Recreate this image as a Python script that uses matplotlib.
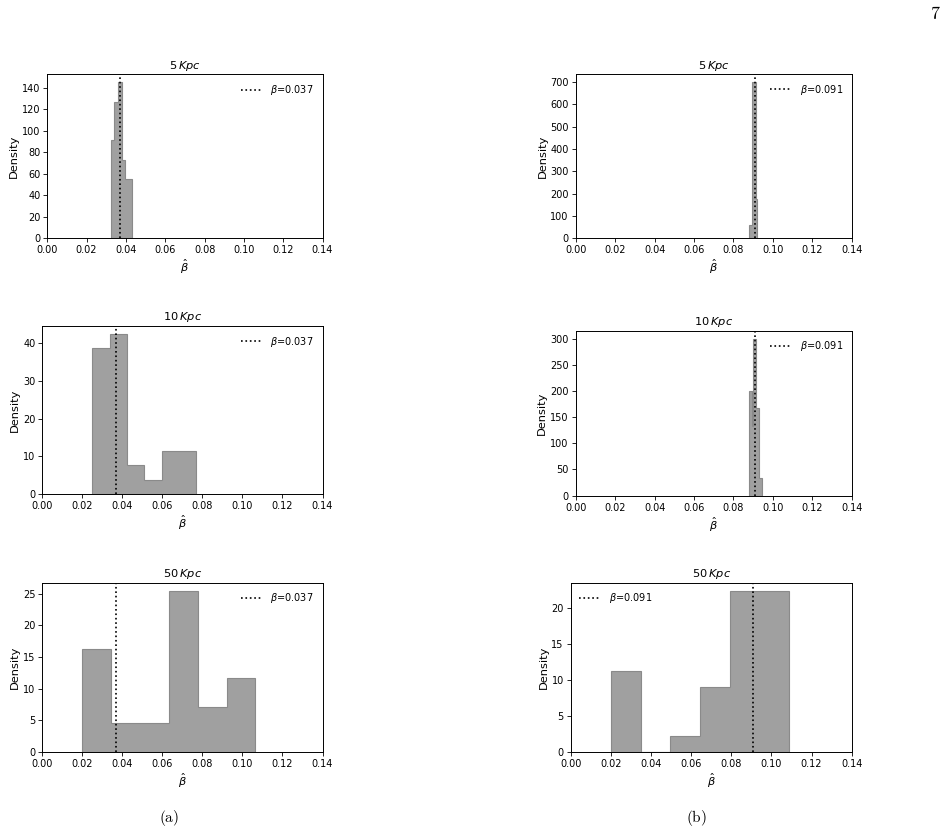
import numpy as np
import matplotlib
matplotlib.use("Agg")
import matplotlib.pyplot as plt
from matplotlib.ticker import MultipleLocator

plt.rcParams['font.size'] = 8.2
plt.rcParams['xtick.labelsize'] = 7
plt.rcParams['ytick.labelsize'] = 7
plt.rcParams['axes.linewidth'] = 0.7

# bin edges and densities
titles = [r'$5\,Kpc$', r'$10\,Kpc$', r'$50\,Kpc$']

# column (a): beta = 0.037
beta_a = 0.037
edges_a = [
    [0.0323, 0.0341, 0.0360, 0.0378, 0.0396, 0.0415, 0.0433],
    [0.0250, 0.0337, 0.0423, 0.0510, 0.0597, 0.0683, 0.0770],
    [0.0200, 0.0344, 0.0488, 0.0633, 0.0777, 0.0921, 0.1065],
]
dens_a = [
    [91, 127, 145, 73, 55, 55],
    [38.5, 42.3, 7.7, 3.85, 11.5, 11.5],
    [16.2, 4.6, 4.6, 25.5, 7.0, 11.6],
]
ystep_a = [20, 10, 5]

# column (b): beta = 0.091
beta_b = 0.091
edges_b = [
    [0.0880, 0.0896, 0.0917, 0.0922],
    [0.0880, 0.0892, 0.0899, 0.0914, 0.0931, 0.0943],
    [0.0200, 0.0348, 0.0496, 0.0644, 0.0792, 0.0940, 0.1088],
]
dens_b = [
    [60, 700, 175],
    [200, 133, 300, 167, 33],
    [11.2, 0.0, 2.2, 9.0, 22.4, 22.4],
]
ystep_b = [100, 50, 5]

fig = plt.figure(figsize=(9.48, 8.35), dpi=100)

# axes boxes [left, bottom, width, height] in figure fractions
boxes = [
    [[0.0499, 0.7146, 0.2903, 0.1964],
     [0.0446, 0.4080, 0.2956, 0.2016],
     [0.0446, 0.0998, 0.2956, 0.2024]],
    [[0.6073, 0.7146, 0.2911, 0.1967],
     [0.6073, 0.4064, 0.2911, 0.1976],
     [0.6020, 0.0998, 0.2964, 0.2024]],
]

columns = [(beta_a, edges_a, dens_a, ystep_a), (beta_b, edges_b, dens_b, ystep_b)]
xt = np.arange(0, 0.141, 0.02)
for c, (beta, edges, dens, ysteps) in enumerate(columns):
    for r in range(3):
        ax = fig.add_axes(boxes[c][r])
        e = np.array(edges[r])
        ax.hist(e[:-1], bins=e, weights=dens[r], histtype='stepfilled',
                facecolor='#a0a0a0', edgecolor='#8a8a8a', linewidth=0.8)
        ax.axvline(beta, color='k', ls=':', lw=1.2,
                   label=r'$\beta$=%.3f' % beta)
        ax.set_xlim(0, 0.14)
        ax.set_xticks(xt)
        ax.set_xticklabels(['%.2f' % v for v in xt])
        ax.yaxis.set_major_locator(MultipleLocator(ysteps[r]))
        ax.tick_params(length=3, width=0.6, pad=2)
        ax.set_title(titles[r], fontsize=8.2, pad=4)
        ax.set_ylabel('Density', labelpad=2)
        ax.set_xlabel(r'$\hat{\beta}$', labelpad=2)
        loc = 'upper left' if (c == 1 and r == 2) else 'upper right'
        ax.legend(loc=loc, frameon=False, fontsize=7, handlelength=2.2)

fig.text(0.178, 0.02, r'$\mathrm{(a)}$', math_fontfamily='cm',
         fontsize=11, ha='center', va='center')
fig.text(0.735, 0.02, r'$\mathrm{(b)}$', math_fontfamily='cm',
         fontsize=11, ha='center', va='center')
fig.text(0.987, 0.983, r'$\mathrm{7}$', math_fontfamily='cm',
         fontsize=13, ha='center', va='center')

fig.savefig('out.png', dpi=100)
